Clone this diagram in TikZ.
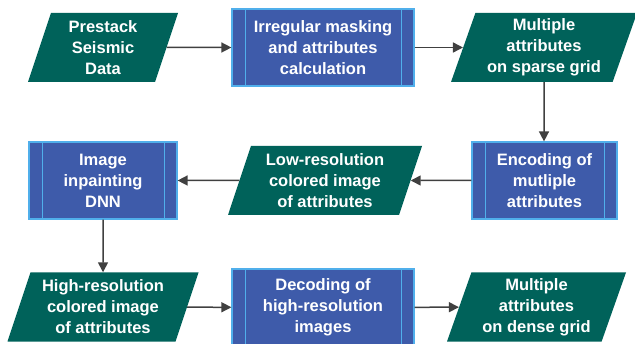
\documentclass[tikz,border=0pt]{standalone}
\usepackage{fontspec}
\setmainfont{Liberation Sans}
\usetikzlibrary{shapes.geometric,arrows.meta}
\definecolor{dataTeal}{RGB}{0,98,90}
\definecolor{procBlue}{RGB}{62,91,170}
\definecolor{procEdge}{RGB}{80,175,235}
\definecolor{arrowGray}{RGB}{64,64,64}
\begin{document}
\begin{tikzpicture}[x=1pt, y=1pt, font=\fontsize{16.5}{21}\selectfont\bfseries, >={Triangle[length=10pt,width=10pt]},
	data/.style={trapezium, trapezium left angle=67, trapezium right angle=113, trapezium stretches body=true, fill=dataTeal, text=white, align=center, minimum height=69pt, inner ysep=0pt, inner xsep=-10pt},
	proc/.style={rectangle, fill=procBlue, draw=procEdge, line width=1.2pt, text=white, align=center, minimum height=77pt, inner sep=0pt,
		path picture={\draw[procEdge, line width=1pt] ([xshift=13pt]path picture bounding box.north west) -- ([xshift=13pt]path picture bounding box.south west) ([xshift=-13pt]path picture bounding box.north east) -- ([xshift=-13pt]path picture bounding box.south east);}},
	flow/.style={->, draw=arrowGray, line width=1.5pt}]
	\useasboundingbox (0,0) rectangle (635,343);
	\clip (0,0) rectangle (635,343);
	% top row
	\node[data, minimum width=150pt] (seis) at (103,295.5) {Prestack\\Seismic\\Data};
	\node[proc, minimum width=182pt] (mask) at (323,295.5) {Irregular masking\\and attributes\\calculation};
	\node[data, minimum width=186pt] (sparse) at (544,295.5) {Multiple\\attributes\\on sparse grid};
	% middle row
	\node[proc, minimum width=145pt] (encode) at (544.5,162.5) {Encoding of\\mutliple\\attributes};
	\node[data, minimum width=194pt] (lowres) at (325,162.5) {Low-resolution\\colored image\\of attributes};
	\node[proc, minimum width=148pt] (inpaint) at (103,162.5) {Image\\inpainting\\DNN};
	% bottom row
	\node[data, minimum width=191pt] (highres) at (103,36) {High-resolution\\colored image\\of attributes};
	\node[proc, minimum width=182pt] (decode) at (323,35.5) {Decoding of\\high-resolution\\images};
	\node[data, minimum width=179pt] (dense) at (536.5,36) {Multiple\\attributes\\on dense grid};
	% connectors
	\draw[flow] (seis) -- (mask);
	\draw[flow] (mask) -- (sparse);
	\draw[flow] (sparse) -- (sparse |- encode.north);
	\draw[flow] (encode) -- (lowres);
	\draw[flow] (lowres) -- (inpaint);
	\draw[flow] (inpaint) -- (highres);
	\draw[flow] (highres) -- (decode);
	\draw[flow] (decode) -- (dense);
\end{tikzpicture}
\end{document}
